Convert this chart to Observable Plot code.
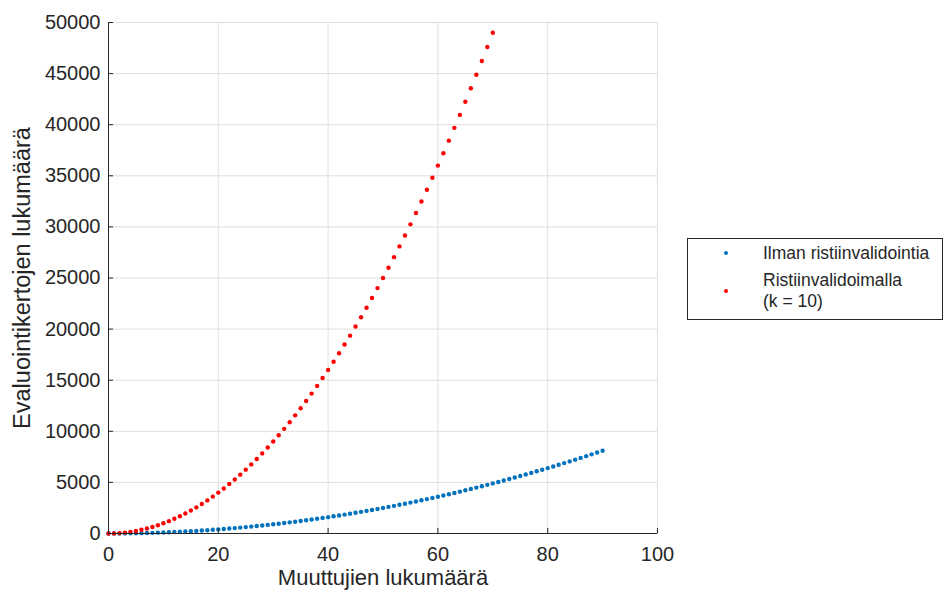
<!DOCTYPE html>
<html>
<head>
<meta charset="utf-8">
<script src="https://cdn.jsdelivr.net/npm/d3@7"></script>
<script src="https://cdn.jsdelivr.net/npm/@observablehq/plot@0.6"></script>
<style>
  html, body { margin: 0; padding: 0; background: #fff; }
  #wrap { position: relative; width: 944px; height: 597px; font-family: "Liberation Sans", Arial, sans-serif; }
  #legend { position: absolute; left: 687px; top: 238px; width: 256px; height: 82px; border: 1px solid #262626; background: #fff; box-sizing: border-box; font-size: 17.5px; color: #262626; }
  .item { position: absolute; left: 75px; line-height: 21px; white-space: nowrap; }
  .dot { position: absolute; width: 4px; height: 4px; border-radius: 50%; }
</style>
</head>
<body>
<div id="wrap"></div>
<script>
const xTicks = [0, 20, 40, 60, 80, 100];
const yTicks = [0, 5000, 10000, 15000, 20000, 25000, 30000, 35000, 40000, 45000, 50000];

const blueX = [0,1,2,3,4,5,6,7,8,9,10,11,12,13,14,15,16,17,18,19,20,21,22,23,24,25,26,27,28,29,30,31,32,33,34,35,36,37,38,39,40,41,42,43,44,45,46,47,48,49,50,51,52,53,54,55,56,57,58,59,60,61,62,63,64,65,66,67,68,69,70,71,72,73,74,75,76,77,78,79,80,81,82,83,84,85,86,87,88,89,90];
const blueY = [0,1,4,9,16,25,36,49,64,81,100,121,144,169,196,225,256,289,324,361,400,441,484,529,576,625,676,729,784,841,900,961,1024,1089,1156,1225,1296,1369,1444,1521,1600,1681,1764,1849,1936,2025,2116,2209,2304,2401,2500,2601,2704,2809,2916,3025,3136,3249,3364,3481,3600,3721,3844,3969,4096,4225,4356,4489,4624,4761,4900,5041,5184,5329,5476,5625,5776,5929,6084,6241,6400,6561,6724,6889,7056,7225,7396,7569,7744,7921,8100];

const redX = [0,1,2,3,4,5,6,7,8,9,10,11,12,13,14,15,16,17,18,19,20,21,22,23,24,25,26,27,28,29,30,31,32,33,34,35,36,37,38,39,40,41,42,43,44,45,46,47,48,49,50,51,52,53,54,55,56,57,58,59,60,61,62,63,64,65,66,67,68,69,70];
const redY = [0,10,40,90,160,250,360,490,640,810,1000,1210,1440,1690,1960,2250,2560,2890,3240,3610,4000,4410,4840,5290,5760,6250,6760,7290,7840,8410,9000,9610,10240,10890,11560,12250,12960,13690,14440,15210,16000,16810,17640,18490,19360,20250,21160,22090,23040,24010,25000,26010,27040,28090,29160,30250,31360,32490,33640,34810,36000,37210,38440,39690,40960,42250,43560,44890,46240,47610,49000];

const seriesNames = ["Ilman ristiinvalidointia", "Ristiinvalidoimalla", "(k = 10)"];
const xLabel = "Muuttujien lukumäärä";
const yLabel = "Evaluointikertojen lukumäärä";

const blue = blueX.map((x, i) => ({x, y: blueY[i]}));
const red = redX.map((x, i) => ({x, y: redY[i]}));

const axisColor = "#262626";
const gridColor = "#dfdfdf";

const chart = Plot.plot({
  width: 944,
  height: 597,
  marginLeft: 108,
  marginRight: 287,
  marginTop: 22,
  marginBottom: 64,
  style: { fontFamily: "Liberation Sans, Arial, sans-serif", fontSize: "20px", color: axisColor, background: "#fff", overflow: "visible" },
  x: { domain: [0, 100] },
  y: { domain: [0, 50000] },
  marks: [
    Plot.gridX(xTicks, { stroke: gridColor, strokeOpacity: 1 }),
    Plot.gridY(yTicks, { stroke: gridColor, strokeOpacity: 1 }),
    Plot.frame({ stroke: gridColor }),
    Plot.dot(blue, { x: "x", y: "y", r: 2.2, fill: "#0072BD", stroke: null }),
    Plot.dot(red, { x: "x", y: "y", r: 2.2, fill: "#FF0000", stroke: null }),
    Plot.axisX(xTicks, { tickSize: -5, tickPadding: 18, label: null, stroke: axisColor, fill: axisColor, fontSize: 20 }),
    Plot.axisY(yTicks, { tickSize: -5, tickPadding: 13, label: null, stroke: axisColor, fill: axisColor, fontSize: 20, tickFormat: d => String(d) }),
    Plot.ruleX([0], { stroke: axisColor }),
    Plot.ruleY([0], { stroke: axisColor }),
    Plot.text([xLabel], { text: d => d, frameAnchor: "bottom", textAnchor: "middle", dy: 51, fontSize: 22, fill: axisColor }),
    Plot.text([yLabel], { text: d => d, frameAnchor: "left", textAnchor: "middle", dx: -86, rotate: -90, fontSize: 23.5, fill: axisColor })
  ]
});

const wrap = document.getElementById("wrap");
wrap.appendChild(chart);

const legend = document.createElement("div");
legend.id = "legend";
legend.innerHTML = `
  <span class="dot" style="left:36px; top:12px; background:#0072BD"></span>
  <span class="item" style="top:4px">${seriesNames[0]}</span>
  <span class="dot" style="left:36px; top:50px; background:#FF0000"></span>
  <span class="item" style="top:31px">${seriesNames[1]}</span>
  <span class="item" style="top:52px">${seriesNames[2]}</span>
`;
wrap.appendChild(legend);
</script>
</body>
</html>
